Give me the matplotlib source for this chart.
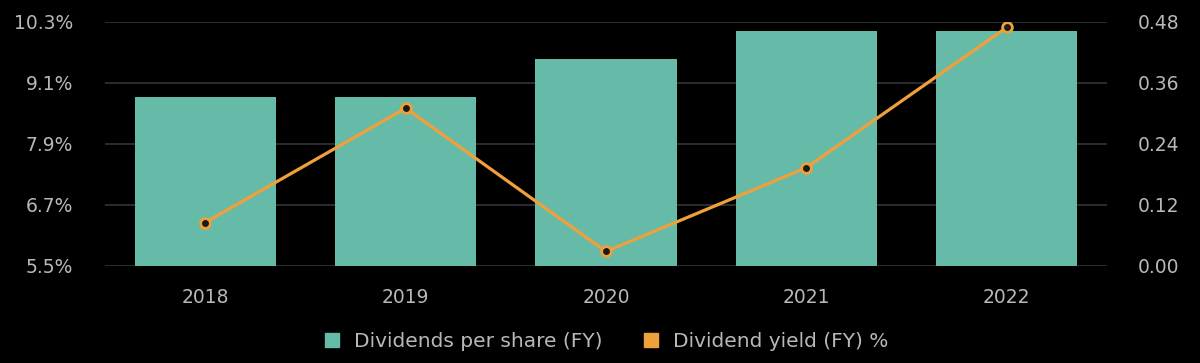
import matplotlib.pyplot as plt
import numpy as np
from matplotlib.lines import Line2D

years = ['2018', '2019', '2020', '2021', '2022']
dps = [0.332, 0.332, 0.406, 0.462, 0.462]
yield_pct = [6.35, 8.60, 5.78, 7.43, 10.19]

left_ticks = [5.5, 6.7, 7.9, 9.1, 10.3]
right_ticks = [0.00, 0.12, 0.24, 0.36, 0.48]

bar_color = '#66BBA8'
line_color = '#F0A03A'
grid_color = '#2E3038'
text_color = '#B8B8BC'

plt.rcParams['font.family'] = ['DejaVu Sans']

fig = plt.figure(figsize=(12, 3.63), dpi=100, facecolor='black')
ax_bar = fig.add_axes([0.0875, 0.268, 0.835, 0.672])
ax_bar.set_facecolor('black')
ax_line = ax_bar.twinx()

x = np.arange(len(years))

# bars on the right axis
ax_bar.set_ylim(0, 0.48)
ax_bar.set_xlim(-0.5, len(years) - 0.5)
ax_bar.set_yticks(right_ticks)
ax_bar.grid(axis='y', color=grid_color, linewidth=1.3, zorder=0)
ax_bar.set_axisbelow(True)
ax_bar.bar(x, dps, width=0.705, color=bar_color, zorder=2)

# yield line on the left axis
ax_line.set_ylim(5.5, 10.3)
ax_line.set_yticks(left_ticks)
ax_line.plot(x, yield_pct, color=line_color, linewidth=2.3, zorder=5,
             marker='o', markersize=7, markerfacecolor='#1a1a1a',
             markeredgecolor=line_color, markeredgewidth=2)

ax_bar.yaxis.tick_right()
ax_line.yaxis.tick_left()
ax_bar.set_yticklabels([f'{v:.2f}' for v in right_ticks])
ax_line.set_yticklabels([f'{v:.1f}%' for v in left_ticks])

ax_bar.set_xticks(x)
ax_bar.set_xticklabels(years)

for a in (ax_bar, ax_line):
    for s in a.spines.values():
        s.set_visible(False)
    a.tick_params(length=0, colors=text_color, labelsize=13.5)
ax_bar.tick_params(axis='x', pad=16)
ax_bar.tick_params(axis='y', pad=22)
ax_line.tick_params(axis='y', pad=23)

handles = [
    Line2D([], [], marker='s', linestyle='none', markersize=10,
           markerfacecolor=bar_color, markeredgecolor=bar_color),
    Line2D([], [], marker='s', linestyle='none', markersize=10,
           markerfacecolor=line_color, markeredgecolor=line_color),
]
fig.legend(handles, ['Dividends per share (FY)', 'Dividend yield (FY) %'],
           loc='center', bbox_to_anchor=(0.5, 0.058), ncol=2,
           frameon=False, fontsize=14.5, handletextpad=0.1,
           columnspacing=1.4, labelcolor=text_color)

fig.savefig('out.png', dpi=100, facecolor='black')
